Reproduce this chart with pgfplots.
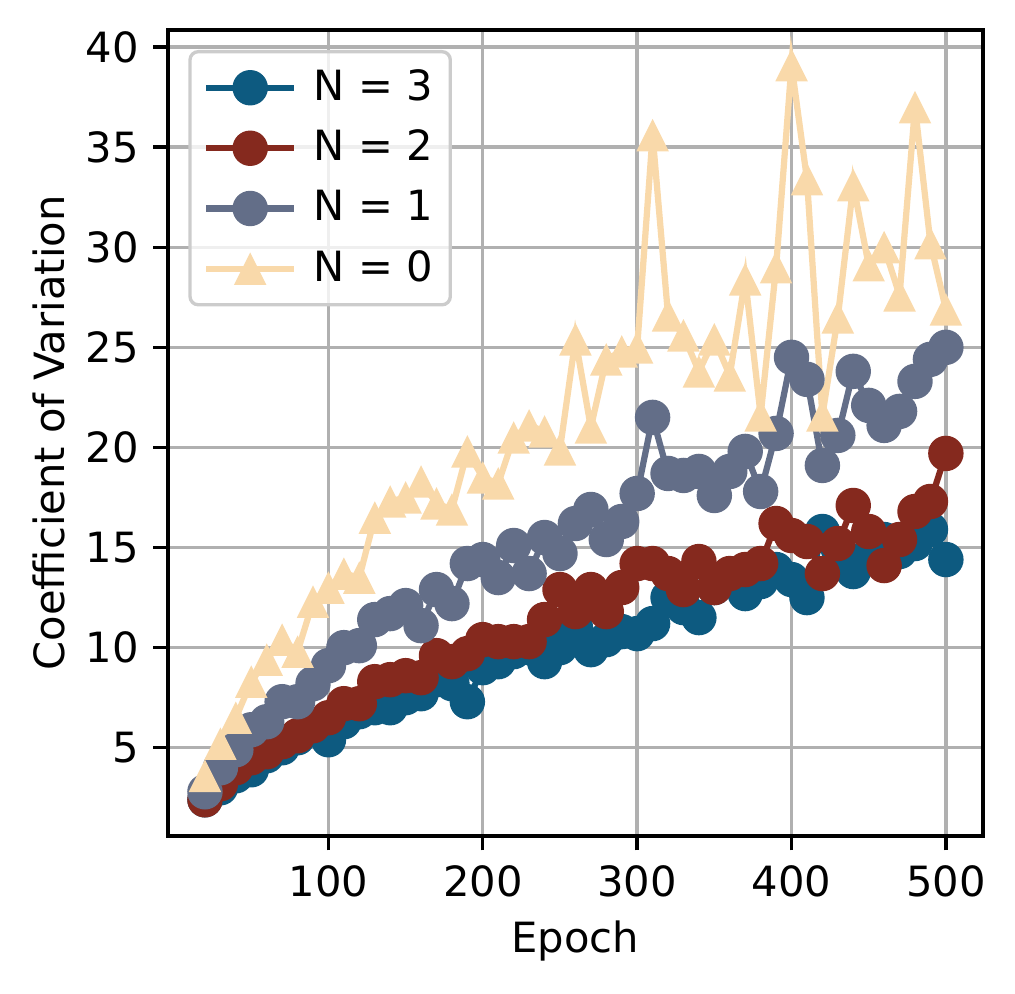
\documentclass[border=0pt]{standalone}
\usepackage{fontspec}
\setmainfont{DejaVu Sans}
\usepackage{pgfplots}
\pgfplotsset{compat=1.18}
\usepackage{pgfplotstable}
\definecolor{cA}{RGB}{13,90,128}
\definecolor{cB}{RGB}{133,41,30}
\definecolor{cC}{RGB}{99,110,136}
\definecolor{cD}{RGB}{249,217,170}
\definecolor{gridc}{RGB}{176,176,176}
\pgfdeclareplotmark{mtri}{%
  \pgfpathmoveto{\pgfqpoint{0pt}{\pgfplotmarksize}}%
  \pgfpathlineto{\pgfqpoint{-\pgfplotmarksize}{-\pgfplotmarksize}}%
  \pgfpathlineto{\pgfqpoint{\pgfplotmarksize}{-\pgfplotmarksize}}%
  \pgfpathclose\pgfusepathqfill}
\pgfplotstableread{
x n3 n2 n1 n0
20 2.4 2.4 2.8 3.6
30 3.0 3.2 4.0 5.2
40 3.6 4.0 4.9 6.5
50 3.9 4.5 5.9 8.3
60 4.6 4.8 6.3 9.4
70 5.0 5.3 7.3 10.4
80 5.5 5.6 7.3 9.8
90 6.0 6.1 8.2 12.3
100 5.4 6.5 9.1 13.0
110 6.3 7.2 10.0 13.7
120 6.8 7.2 10.1 13.5
130 7.0 8.3 11.4 16.5
140 7.0 8.4 11.7 17.3
150 7.5 8.6 12.1 17.5
160 7.7 8.5 11.1 18.3
170 8.4 9.6 12.9 17.2
180 8.2 9.3 12.2 16.9
190 7.3 9.7 14.2 19.8
200 9.0 10.4 14.4 18.5
210 9.3 10.3 13.5 18.2
220 9.8 10.3 15.1 20.5
230 10.0 10.3 13.7 21.1
240 9.3 11.4 15.5 20.8
250 10.0 12.9 14.7 19.9
260 11.0 11.8 16.2 25.4
270 9.9 12.9 16.9 21.0
280 10.4 11.8 15.4 24.4
290 10.8 13.0 16.3 24.8
300 10.7 14.2 17.7 25.0
310 11.2 14.2 21.5 35.6
320 12.5 13.7 18.7 26.6
330 12.0 12.9 18.6 25.6
340 11.5 14.3 18.8 23.8
350 13.0 13.0 17.6 25.4
360 13.5 13.7 18.8 23.6
370 12.7 13.9 19.8 28.4
380 13.3 14.2 17.8 21.6
390 13.9 16.2 20.7 29.0
400 13.4 15.6 24.5 39.1
410 12.5 15.3 23.4 33.4
420 15.8 13.7 19.1 21.6
430 15.0 15.2 20.6 26.5
440 13.8 17.1 23.8 33.1
450 14.6 15.8 22.1 29.1
460 15.4 14.1 21.1 30.0
470 14.8 15.4 21.8 27.6
480 15.2 16.8 23.3 37.0
490 15.9 17.3 24.4 30.2
500 14.4 19.7 25.0 26.9
}\datatable
\begin{document}
\begin{tikzpicture}
\begin{axis}[
  scale only axis,
  width=195.6pt, height=193.4pt,
  xmin=-4, xmax=524, ymin=0.6, ymax=40.85,
  xtick={100,200,300,400,500},
  ytick={5,10,15,20,25,30,35,40},
  tick pos=left,
  tick align=outside,
  major tick length=3.5pt,
  every tick/.style={black, line width=0.8pt},
  axis line style={line width=0.8pt},
  grid=major,
  major grid style={gridc, line width=0.8pt},
  tick label style={font=\fontsize{10}{12}\selectfont},
  label style={font=\fontsize{10}{12}\selectfont},
  /pgf/number format/assume math mode=true,
  xlabel={Epoch},
  ylabel={Coefficient of Variation},
  xlabel style={yshift=1pt},
  ylabel style={yshift=-2pt},
  legend style={at={(axis cs:-4,40.85)}, anchor=north west, xshift=4.9pt, yshift=-4.8pt,
    draw=black!20, line width=0.8pt, rounded corners=2pt, fill=white, fill opacity=0.8, text opacity=1,
    font=\fontsize{10}{12}\selectfont, inner xsep=3.2pt, inner ysep=3.2pt,
    row sep=3.6pt, nodes={inner sep=1pt}},
  legend cell align=left,
  legend image code/.code={%
    \draw[opacity=1, line width=1.5pt] (0pt,0pt) -- (21pt,0pt);
    \path[opacity=1, fill opacity=1, mark options={solid, draw=none}] plot coordinates {(10.5pt,0pt)};},
  every axis plot/.append style={line width=1.5pt},
]
\addplot[cA, mark=*, mark size=3.5pt, mark options={solid, draw=none, fill=cA}] table[x=x,y=n3] {\datatable};
\addlegendentry{\hspace{3pt}N = 3\hspace{2.5pt}}
\addplot[cB, mark=*, mark size=3.5pt, mark options={solid, draw=none, fill=cB}] table[x=x,y=n2] {\datatable};
\addlegendentry{\hspace{3pt}N = 2\hspace{2.5pt}}
\addplot[cC, mark=*, mark size=3.5pt, mark options={solid, draw=none, fill=cC}] table[x=x,y=n1] {\datatable};
\addlegendentry{\hspace{3pt}N = 1\hspace{2.5pt}}
\addplot[cD, mark=mtri, mark size=3.9pt, mark options={solid, draw=none, fill=cD}] table[x=x,y=n0] {\datatable};
\addlegendentry{\hspace{3pt}N = 0\hspace{2.5pt}}
\end{axis}
\pgfresetboundingbox
\path (current axis.south west) ++(-40.3pt,-37.9pt) coordinate (bl);
\path (current axis.north east) ++(7.7pt,7.2pt) coordinate (tr);
\useasboundingbox (bl) rectangle (tr);
\end{tikzpicture}
\end{document}
